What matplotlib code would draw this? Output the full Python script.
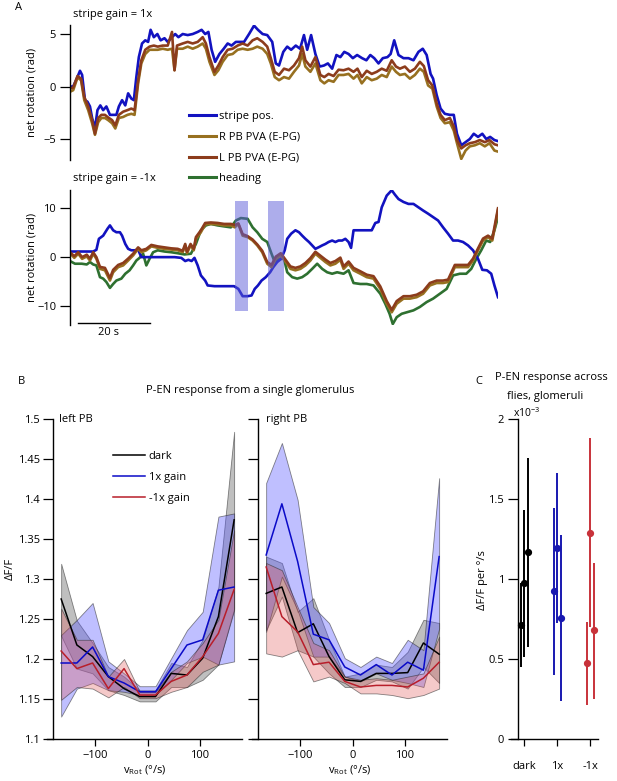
import matplotlib
matplotlib.use("Agg")
import matplotlib.pyplot as plt
from matplotlib.lines import Line2D
from matplotlib.ticker import FormatStrFormatter
import numpy as np

plt.rcParams['font.family'] = ['Open Sans', 'DejaVu Sans']
plt.rcParams['font.size'] = 8
plt.rcParams['mathtext.fontset'] = 'custom'
plt.rcParams['mathtext.rm'] = 'Open Sans'
plt.rcParams['mathtext.it'] = 'Open Sans:italic'

# ---------------- panel A, stripe gain = 1x (time in s, rotation in rad)
t_top_stripe = [0.0, 0.9, 1.9, 2.8, 3.4, 4.2, 4.9, 5.6, 6.2, 7.0,
                7.7, 8.5, 9.3, 10.2, 11.2, 12.1, 13.0, 13.7, 14.6, 15.5,
                16.3, 17.2, 17.9, 18.6, 19.3, 20.2, 21.1, 21.9, 22.6, 23.5,
                24.5, 25.4, 26.5, 27.4, 28.6, 29.5, 30.4, 31.6, 33.0, 34.4,
                35.8, 36.9, 37.9, 38.8, 39.7, 40.7, 41.9, 43.1, 44.2, 45.3,
                46.5, 47.7, 48.8, 50.2, 51.6, 52.7, 54.0, 55.3, 56.7, 57.7,
                58.6, 59.8, 60.9, 62.0, 63.3, 64.5, 65.6, 66.5, 67.6, 68.8,
                70.0, 71.2, 72.3, 73.5, 74.7, 75.8, 76.9, 78.1, 79.3, 80.5,
                81.9, 83.1, 84.2, 85.3, 86.5, 87.7, 89.0, 89.9, 90.9, 92.1,
                93.5, 94.9, 96.3, 97.7, 98.9, 100.0, 101.1, 101.8, 102.8, 103.9,
                105.1, 106.5, 107.6, 108.5, 109.7, 110.9, 112.1, 113.2, 114.4, 115.6,
                116.7, 117.8, 119.0, 120.0]
top_stripe = [0, 0, 0.75, 1.5, 1.1, -1.3, -1.45, -1.9, -3.0, -4.0,
              -2.25, -1.8, -2.25, -1.9, -2.7, -2.7, -2.7, -1.9, -1.3, -1.8,
              -0.65, -1.15, -1.3, 0.9, 2.8, 4.1, 4.4, 4.25, 5.4, 4.7,
              5.0, 4.4, 4.6, 4.25, 4.7, 5.0, 4.7, 5.0, 4.9, 5.0,
              5.2, 5.4, 5.0, 5.2, 3.5, 2.35, 3.1, 3.6, 4.1, 3.9,
              4.25, 4.25, 4.25, 5.0, 5.8, 5.4, 5.0, 4.9, 4.25, 2.2,
              2.0, 3.3, 3.8, 3.5, 3.9, 3.6, 4.9, 3.5, 4.9, 3.1,
              1.9, 2.0, 2.2, 1.7, 3.0, 2.8, 3.3, 3.1, 2.7, 3.0,
              2.7, 2.5, 3.0, 2.7, 2.2, 2.7, 2.8, 3.1, 4.4, 3.0,
              2.7, 2.7, 2.5, 3.3, 3.6, 3.0, 1.2, 0.75, -0.8, -2.1,
              -2.6, -2.7, -2.7, -4.5, -5.6, -5.3, -5.0, -4.5, -4.8, -4.5,
              -5.0, -4.8, -5.1, -5.2]

t_top_pva = [0.0, 0.9, 2.1, 3.1, 4.0, 5.1, 6.2, 7.0, 7.9, 8.8,
             9.8, 10.7, 11.8, 12.7, 13.7, 14.9, 16.1, 17.2, 18.1, 19.1,
             20.0, 21.1, 22.3, 23.5, 24.6, 26.0, 27.4, 28.6, 29.3, 30.0,
             31.6, 33.0, 34.4, 35.8, 37.2, 38.1, 39.1, 40.5, 41.6, 42.8,
             44.2, 45.6, 47.0, 48.4, 49.8, 51.2, 52.5, 54.0, 55.3, 56.3,
             57.4, 58.6, 60.0, 61.4, 62.8, 64.2, 65.1, 66.0, 67.4, 68.8,
             70.2, 71.3, 72.5, 73.9, 75.3, 76.7, 78.1, 79.5, 80.6, 81.8,
             83.2, 84.6, 86.0, 87.4, 88.8, 90.2, 91.4, 92.5, 93.9, 95.3,
             96.7, 98.1, 99.2, 100.4, 101.6, 102.8, 103.9, 105.1, 106.5, 107.6,
             108.5, 109.7, 110.9, 112.1, 113.5, 114.9, 116.3, 117.6, 119.0, 120.0]
top_r_pva = [-0.5, -0.35, 0.85, 0.6, -1.3, -2.25, -3.5, -4.6, -3.4, -3.0,
             -3.0, -3.2, -3.5, -4.0, -3.0, -2.9, -2.7, -2.6, -2.7, 0.3,
             2.2, 3.1, 3.5, 3.5, 3.5, 3.6, 3.5, 3.6, 1.55, 3.6,
             3.6, 3.8, 3.6, 3.8, 4.1, 3.6, 2.35, 1.1, 1.55, 2.35,
             3.0, 3.1, 3.5, 3.6, 3.5, 3.6, 3.8, 3.6, 3.1, 2.2,
             0.9, 0.6, 0.9, 0.75, 1.4, 2.0, 3.1, 1.9, 1.4, 2.2,
             0.6, 0.3, 0.6, 0.45, 1.1, 1.1, 1.2, 0.75, 1.1, 0.3,
             0.9, 0.6, 0.75, 1.1, 0.9, 1.9, 1.4, 1.1, 1.2, 0.75,
             1.1, 1.7, 1.4, 0.1, -0.2, -1.9, -3.0, -3.5, -3.4, -4.2,
             -5.4, -6.9, -6.1, -5.7, -5.6, -5.4, -5.7, -5.4, -6.1, -6.2]
top_l_pva = [-0.2, -0.1, 1.0, 0.75, -1.0, -1.9, -3.2, -4.5, -3.0, -2.7,
             -2.7, -2.95, -3.2, -3.7, -2.7, -2.4, -2.25, -2.1, -2.25, 0.6,
             2.5, 3.5, 3.8, 3.9, 3.8, 3.9, 3.9, 5.2, 1.55, 3.9,
             4.1, 4.25, 4.1, 4.25, 4.7, 4.1, 2.8, 1.4, 2.0, 2.8,
             3.5, 3.6, 3.9, 4.1, 3.9, 4.4, 4.6, 4.25, 3.8, 2.7,
             1.4, 1.1, 1.7, 1.55, 2.0, 2.7, 3.8, 2.5, 1.9, 2.8,
             1.1, 0.9, 1.2, 1.0, 1.6, 1.55, 1.7, 1.4, 1.7, 0.9,
             1.5, 1.2, 1.4, 1.7, 1.5, 2.5, 1.9, 1.7, 1.9, 1.4,
             1.7, 2.35, 1.95, 0.6, 0.1, -1.6, -2.7, -3.2, -3.0, -3.8,
             -5.1, -5.9, -5.6, -5.4, -5.3, -5.1, -5.3, -5.1, -5.5, -5.6]

# ---------------- panel A, stripe gain = -1x
t_bot_stripe = [0.0, 1.4, 3.3, 5.1, 6.5, 7.4, 8.1, 9.3, 10.5, 11.2,
                12.1, 13.0, 14.0, 14.6, 15.5, 16.3, 17.2, 18.1, 19.1, 20.0,
                21.9, 23.7, 25.6, 27.4, 29.3, 31.2, 32.3, 33.2, 34.1, 34.9,
                35.8, 36.7, 37.9, 38.6, 40.5, 42.3, 44.2, 46.0, 47.2, 48.4,
                49.8, 50.9, 51.8, 52.7, 53.7, 54.9, 56.1, 57.0, 58.1, 59.2,
                60.2, 60.9, 62.0, 63.2, 64.2, 65.1, 66.0, 67.0, 67.9, 68.8,
                69.8, 70.7, 71.6, 72.5, 73.5, 74.4, 75.3, 76.3, 77.2, 78.1,
                78.8, 79.5, 81.4, 83.2, 84.6, 85.6, 86.5, 87.4, 88.8, 90.2,
                91.1, 92.1, 93.5, 94.9, 96.3, 97.7, 99.0, 100.4, 101.8, 103.2,
                104.6, 106.0, 107.4, 108.8, 110.2, 111.6, 113.0, 114.4, 115.6, 116.9,
                118.1, 119.0, 120.0]
bot_stripe = [1.15, 1.15, 1.15, 1.15, 1.15, 1.5, 3.75, 4.4, 5.8, 6.5,
              5.5, 5.1, 5.1, 4.4, 2.7, 1.7, 1.4, 1.4, 1.5, 0,
              0, 0, 0, 0, 0, -0.15, -0.8, -0.55, -0.8, -0.15,
              -1.7, -3.75, -4.8, -5.8, -5.95, -5.95, -5.95, -5.95, -6.5, -8.0,
              -8.0, -7.85, -6.5, -5.8, -4.8, -4.1, -3.1, -2.05, -1.0, -0.35,
              1.4, 3.75, 4.8, 5.5, 5.1, 4.4, 3.75, 3.1, 2.4, 1.7,
              2.05, 2.4, 2.7, 3.1, 3.4, 3.1, 3.4, 3.4, 3.75, 3.1,
              1.9, 5.5, 5.5, 5.5, 5.5, 7.0, 7.2, 10.2, 12.6, 13.7,
              12.8, 11.9, 11.3, 10.9, 10.9, 10.2, 9.55, 8.9, 8.2, 7.5,
              6.1, 4.8, 3.4, 3.4, 3.1, 2.4, 1.4, -0.35, -2.6, -2.7,
              -3.4, -5.8, -8.2]

t_bot_heading = [0.0, 1.4, 3.3, 4.7, 5.6, 6.5, 7.4, 8.4, 9.3, 10.2,
                 11.2, 12.1, 13.0, 14.4, 15.5, 16.7, 17.7, 18.6, 19.5, 20.5,
                 21.4, 22.3, 23.3, 24.6, 26.5, 28.4, 30.2, 32.1, 33.9, 35.3,
                 36.7, 38.1, 39.5, 41.4, 43.2, 45.1, 46.5, 47.9, 49.8, 51.2,
                 52.5, 53.9, 55.3, 56.5, 57.4, 58.6, 60.0, 60.9, 62.3, 63.7,
                 65.1, 66.5, 67.9, 69.3, 70.7, 72.1, 73.5, 74.9, 76.7, 78.1,
                 79.5, 81.4, 83.2, 85.1, 87.0, 88.4, 89.6, 90.5, 91.6, 93.0,
                 94.4, 96.3, 98.1, 100.0, 101.8, 103.7, 105.6, 107.4, 109.3, 111.1,
                 112.5, 113.9, 115.3, 116.7, 117.8, 119.0, 120.0]
bot_heading = [-0.8, -1.35, -1.35, -1.5, -1.0, -1.5, -1.7, -4.1, -4.4, -5.1,
               -6.3, -5.5, -4.8, -4.4, -3.4, -2.7, -1.7, -0.7, -0.15, 0.7,
               -1.7, -0.35, 1.0, 1.4, 1.15, 1.0, 0.8, 0.55, 0.7, 2.7,
               5.5, 6.5, 6.8, 6.5, 6.3, 6.1, 7.5, 8.0, 7.85, 6.1,
               5.1, 3.75, 3.1, 0.7, -1.0, -0.35, -0.35, -3.1, -4.1, -4.4,
               -4.1, -3.4, -2.4, -1.35, -2.4, -3.1, -3.4, -3.1, -3.4, -2.7,
               -5.3, -5.5, -5.5, -5.8, -7.5, -9.55, -11.6, -13.7, -12.3, -11.6,
               -11.3, -10.9, -10.2, -9.2, -8.5, -7.5, -6.5, -3.75, -3.4, -3.4,
               -2.4, -0.35, 1.4, 3.4, 3.1, 5.5, 8.2]

t_bot_pva = [0.0, 1.2, 2.3, 3.4, 4.7, 5.6, 6.5, 7.4, 8.4, 9.8,
             11.2, 12.1, 13.5, 14.9, 16.3, 17.7, 19.1, 20.0, 21.4, 22.8,
             24.6, 26.5, 28.4, 30.2, 31.6, 32.3, 32.8, 33.8, 34.7, 35.3,
             36.7, 37.9, 39.5, 41.4, 43.2, 45.1, 46.2, 47.2, 48.4, 49.8,
             51.2, 52.5, 53.9, 55.3, 56.5, 57.7, 59.1, 60.5, 61.8, 63.2,
             64.6, 66.0, 67.4, 68.8, 70.2, 71.6, 73.0, 74.4, 75.8, 76.7,
             78.1, 79.5, 81.4, 83.2, 85.1, 87.0, 88.8, 90.2, 91.6, 93.5,
             95.3, 97.2, 99.0, 100.9, 102.8, 104.6, 106.0, 107.9, 109.7, 111.6,
             113.0, 114.4, 115.8, 117.2, 118.4, 119.3, 120.0]
bot_r_pva = [0.8, -0.15, 0.7, -0.35, 0.15, -0.7, 0.7, -0.35, -2.4, -2.7,
             -4.8, -3.1, -2.05, -1.7, -0.7, 0.35, 1.7, 1.0, 1.4, 2.2,
             1.9, 1.7, 1.55, 1.4, 1.0, 2.4, 0.8, 2.4, 1.4, 3.75,
             5.1, 6.7, 6.8, 6.7, 6.5, 6.5, 6.1, 6.8, 4.4, 4.1,
             3.4, 2.4, 1.0, -1.35, -2.05, -0.35, 0.35, -1.0, -2.4, -2.7,
             -2.4, -1.7, -0.7, 0.7, -0.15, -1.0, -1.7, -1.35, -0.55, -2.4,
             -1.35, -2.7, -3.4, -4.1, -4.4, -6.5, -9.55, -11.3, -9.55, -8.5,
             -8.5, -8.2, -7.5, -5.8, -5.3, -5.3, -5.1, -2.05, -2.05, -2.05,
             -0.7, 1.4, 3.4, 4.1, 3.4, 6.8, 9.7]
bot_l_pva = [1.0, 0.2, 1.0, 0.0, 0.5, -0.3, 1.0, 0.0, -2.0, -2.2,
             -4.3, -2.6, -1.6, -1.2, -0.3, 0.7, 2.0, 1.4, 1.7, 2.5,
             2.2, 2.0, 1.8, 1.7, 1.3, 2.7, 1.1, 2.7, 1.7, 4.1,
             5.5, 7.0, 7.1, 7.0, 6.8, 6.8, 6.6, 6.9, 4.7, 4.3,
             3.6, 2.6, 1.3, -1.0, -1.6, 0.1, 0.8, -0.6, -1.9, -2.2,
             -1.9, -1.2, -0.2, 1.1, 0.3, -0.5, -1.2, -0.8, -0.1, -1.9,
             -0.9, -2.2, -2.9, -3.6, -3.9, -6.0, -9.0, -10.8, -9.0, -8.0,
             -8.0, -7.7, -7.0, -5.3, -4.8, -4.8, -4.6, -1.6, -1.6, -1.6,
             -0.3, 1.8, 3.8, 4.4, 3.8, 7.3, 10.0]

# shaded epochs in the -1x trial (s)
shade_start = [46.2, 55.4]
shade_end = [49.9, 59.9]
shade_lo, shade_hi = -11.1, 11.4

# ---------------- panel B, tuning curves (dF/F vs rotational velocity)
v_rot = [-165, -135, -105, -75, -45, -15, 15, 45, 75, 105, 135, 165]

left_dark = [1.275, 1.2175, 1.203, 1.178, 1.163, 1.153, 1.153, 1.182, 1.18, 1.201, 1.253, 1.374]
left_dark_hi = [1.319, 1.248, 1.22, 1.19, 1.178, 1.161, 1.161, 1.195, 1.19, 1.224, 1.29, 1.484]
left_dark_lo = [1.229, 1.188, 1.182, 1.161, 1.155, 1.147, 1.147, 1.165, 1.165, 1.174, 1.193, 1.263]
left_1x = [1.195, 1.195, 1.215, 1.178, 1.17, 1.159, 1.159, 1.188, 1.2175, 1.224, 1.286, 1.29]
left_1x_hi = [1.23, 1.249, 1.27, 1.197, 1.182, 1.166, 1.166, 1.201, 1.236, 1.259, 1.378, 1.382]
left_1x_lo = [1.128, 1.163, 1.17, 1.161, 1.159, 1.155, 1.155, 1.174, 1.195, 1.203, 1.193, 1.197]
left_m1x = [1.21, 1.188, 1.195, 1.163, 1.188, 1.155, 1.155, 1.172, 1.18, 1.203, 1.232, 1.287]
left_m1x_hi = [1.263, 1.224, 1.224, 1.178, 1.2, 1.159, 1.159, 1.184, 1.197, 1.22, 1.249, 1.361]
left_m1x_lo = [1.149, 1.165, 1.163, 1.152, 1.165, 1.151, 1.151, 1.159, 1.165, 1.184, 1.193, 1.261]

right_dark = [1.282, 1.29, 1.233, 1.244, 1.203, 1.174, 1.172, 1.182, 1.182, 1.183, 1.22, 1.206]
right_dark_hi = [1.328, 1.32, 1.259, 1.276, 1.224, 1.178, 1.182, 1.193, 1.19, 1.209, 1.249, 1.245]
right_dark_lo = [1.236, 1.278, 1.211, 1.203, 1.182, 1.165, 1.165, 1.174, 1.172, 1.163, 1.19, 1.17]
right_1x = [1.33, 1.394, 1.322, 1.231, 1.224, 1.19, 1.18, 1.193, 1.18, 1.196, 1.186, 1.328]
right_1x_hi = [1.42, 1.47, 1.399, 1.265, 1.245, 1.201, 1.19, 1.203, 1.195, 1.224, 1.211, 1.426]
right_1x_lo = [1.234, 1.303, 1.261, 1.203, 1.203, 1.178, 1.172, 1.182, 1.174, 1.17, 1.165, 1.238]
right_m1x = [1.315, 1.253, 1.234, 1.193, 1.196, 1.172, 1.165, 1.167, 1.167, 1.165, 1.176, 1.196]
right_m1x_hi = [1.32, 1.311, 1.265, 1.22, 1.211, 1.178, 1.174, 1.176, 1.174, 1.178, 1.182, 1.228]
right_m1x_lo = [1.207, 1.203, 1.211, 1.172, 1.178, 1.17, 1.157, 1.157, 1.155, 1.151, 1.155, 1.163]

# ---------------- panel C, slopes (x1e-3 dF/F per deg/s), 3 flies/glomeruli per condition
conditions = ['dark', '1x', '-1x']
slope_mean = [[0.71, 0.974, 1.167], [0.924, 1.194, 0.758], [0.474, 1.29, 0.679]]
slope_lo = [[0.451, 0.513, 0.577], [0.399, 0.723, 0.239], [0.214, 0.70, 0.253]]
slope_hi = [[0.975, 1.429, 1.759], [1.445, 1.664, 1.275], [0.733, 1.88, 1.103]]
jitter = [-0.1, 0.0, 0.1]

# ---------------- styling
c_stripe = '#1212c0'
c_rpva = '#977020'
c_lpva = '#8c3c1c'
c_head = '#2e7030'
c_dark = '#000000'
c_1x = '#0a0ac8'
c_m1x = '#b81e2a'
c_dot = ['#000000', '#1818b0', '#c8323a']

W, H = 617, 781


def box(x0, y0, x1, y1):
    return [x0 / W, 1 - y1 / H, (x1 - x0) / W, (y1 - y0) / H]


def only_left(ax):
    for s in ['top', 'right', 'bottom']:
        ax.spines[s].set_visible(False)
    ax.tick_params(axis='y', direction='out', length=7, width=0.9, pad=3)
    ax.spines['left'].set_linewidth(1.0)
    ax.yaxis.set_label_coords(-32 / 428, 0.5)


fig = plt.figure(figsize=(W / 100, H / 100), dpi=100)

# ===== A top
ax1 = fig.add_axes(box(70, 25, 498, 160))
ax1.plot(t_top_stripe, top_stripe, color=c_stripe, lw=1.9)
ax1.plot(t_top_pva, top_r_pva, color=c_rpva, lw=1.9)
ax1.plot(t_top_pva, top_l_pva, color=c_lpva, lw=1.9)
ax1.set_xlim(0, 120)
ax1.set_ylim(-7.0, 5.86)
ax1.set_yticks([-5, 0, 5])
ax1.set_xticks([])
ax1.set_ylabel('net rotation (rad)')
only_left(ax1)

# ===== A bottom
ax2 = fig.add_axes(box(70, 190, 498, 325))
ax2.plot(t_bot_heading, bot_heading, color=c_head, lw=1.9)
ax2.plot(t_bot_stripe, bot_stripe, color=c_stripe, lw=1.9)
ax2.plot(t_bot_pva, bot_r_pva, color=c_rpva, lw=1.9)
ax2.plot(t_bot_pva, bot_l_pva, color=c_lpva, lw=1.9)
for s0, s1 in zip(shade_start, shade_end):
    ax2.fill_between([s0, s1], shade_lo, shade_hi, color='#5c5cd8', alpha=0.5, lw=0, zorder=5)
ax2.set_xlim(0, 120)
ax2.set_ylim(-13.9, 13.75)
ax2.set_yticks([-10, 0, 10])
ax2.set_xticks([])
ax2.set_ylabel('net rotation (rad)')
only_left(ax2)
ax2.plot([2.3, 22.3], [-13.5, -13.5], color='k', lw=1.0, clip_on=False)
ax2.text(10.7, -15.4, '20 s', ha='center', va='center')

fig.text(15 / W, 1 - 8 / H, 'A', ha='left', va='center')
fig.text(73 / W, 1 - 14 / H, 'stripe gain = 1x', ha='left', va='center')
fig.text(73 / W, 1 - 178 / H, 'stripe gain = -1x', ha='left', va='center')

handles = [Line2D([], [], color=c, lw=2.2) for c in [c_stripe, c_rpva, c_lpva, c_head]]
fig.legend(handles, ['stripe pos.', 'R PB PVA (E-PG)', 'L PB PVA (E-PG)', 'heading'],
           loc='upper left', bbox_to_anchor=(189 / W, 1 - 111 / H), frameon=False,
           handlelength=2.4, handletextpad=0.3, labelspacing=0.88, borderpad=0,
           borderaxespad=0, fontsize=8)

# ===== B  (x axis line runs a little left of the y spine, as in the original)
axL = fig.add_axes(box(47, 419, 242, 739))
axR = fig.add_axes(box(252, 419, 447, 739))
curves = {
    axL: [(left_dark, left_dark_lo, left_dark_hi), (left_1x, left_1x_lo, left_1x_hi),
          (left_m1x, left_m1x_lo, left_m1x_hi)],
    axR: [(right_dark, right_dark_lo, right_dark_hi), (right_1x, right_1x_lo, right_1x_hi),
          (right_m1x, right_m1x_lo, right_m1x_hi)],
}
fills = [(0.45, 0.45, 0.45, 0.45), (0.35, 0.35, 1.0, 0.38), (0.88, 0.35, 0.35, 0.32)]
for ax, sets in curves.items():
    for (m, lo, hi), fc in zip(sets, fills):
        ax.fill_between(v_rot, lo, hi, facecolor=fc, edgecolor=(0.15, 0.15, 0.15, 0.55), lw=0.6)
    for (m, lo, hi), c in zip(sets, [c_dark, c_1x, c_m1x]):
        ax.plot(v_rot, m, color=c, lw=1.1)
    ax.set_xlim(-192, 180)
    ax.set_ylim(1.1, 1.5)
    ax.spines['left'].set_position(('data', -181))
    ax.set_yticks(np.arange(1.1, 1.501, 0.05))
    ax.yaxis.set_major_formatter(FormatStrFormatter('%g'))
    ax.set_xticks([-100, 0, 100])
    for s in ['top', 'right']:
        ax.spines[s].set_visible(False)
    ax.spines['left'].set_linewidth(1.0)
    ax.spines['bottom'].set_linewidth(1.0)
    ax.tick_params(axis='y', direction='out', length=7, width=0.9, pad=2)
    ax.tick_params(axis='x', direction='out', length=5, width=0.9, pad=3)
    ax.set_xlabel(r'v$_{\mathrm{Rot}}$ (°/s)', labelpad=2)
axR.set_yticklabels([])
axL.text(-170, 1.5, 'left PB', ha='left', va='center')
axR.text(-165, 1.5, 'right PB', ha='left', va='center')
fig.text(10 / W, 1 - 569 / H, 'ΔF/F', rotation=90, ha='center', va='center')

bh = [Line2D([], [], color=c, lw=1.1) for c in [c_dark, c_1x, c_m1x]]
axL.legend(bh, ['dark', '1x gain', '-1x gain'], loc='upper left',
           bbox_to_anchor=(113 / W, 1 - 451 / H), bbox_transform=fig.transFigure,
           frameon=False, handlelength=2.9, handletextpad=0.3, labelspacing=0.88,
           borderpad=0, borderaxespad=0, fontsize=8)

fig.text(18 / W, 1 - 381 / H, 'B', ha='left', va='center')
fig.text(250 / W, 1 - 391 / H, 'P-EN response from a single glomerulus', ha='center', va='center')

# ===== C
axC = fig.add_axes(box(511, 419, 598, 739))
for i, c in enumerate(c_dot):
    xs = [i + j for j in jitter]
    yerr = [[m - l for m, l in zip(slope_mean[i], slope_lo[i])],
            [h - m for m, h in zip(slope_mean[i], slope_hi[i])]]
    axC.errorbar(xs, slope_mean[i], yerr=yerr, fmt='o', color=c, ms=4.2,
                 elinewidth=1.4, capsize=0)
axC.set_xlim(-0.4, 2.23)
axC.set_ylim(0, 2)
axC.spines['left'].set_position(('data', -0.19))
axC.set_yticks([0, 0.5, 1, 1.5, 2])
axC.yaxis.set_major_formatter(FormatStrFormatter('%g'))
axC.set_xticks(range(len(conditions)))
axC.set_xticklabels(conditions)
for s in ['top', 'right']:
    axC.spines[s].set_visible(False)
axC.spines['left'].set_linewidth(1.0)
axC.spines['bottom'].set_linewidth(1.0)
axC.tick_params(axis='y', direction='out', length=7, width=0.9, pad=3)
axC.tick_params(axis='x', direction='out', length=5, width=0.9, pad=11)
fig.text(513 / W, 1 - 413 / H, r'x10$^{\mathrm{-3}}$', ha='left', va='center', fontsize=7.5)
fig.text(482 / W, 1 - 580 / H, 'ΔF/F per °/s', rotation=90, ha='center', va='center')
fig.text(475 / W, 1 - 381 / H, 'C', ha='left', va='center')
fig.text(551 / W, 1 - 378 / H, 'P-EN response across', ha='center', va='center')
fig.text(545 / W, 1 - 397 / H, 'flies, glomeruli', ha='center', va='center')

fig.savefig('out.png', dpi=100)
